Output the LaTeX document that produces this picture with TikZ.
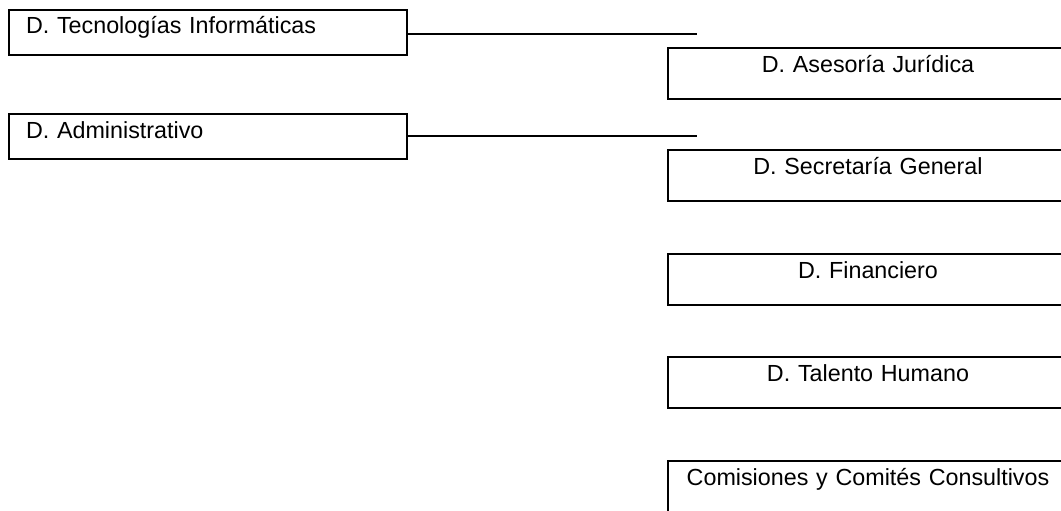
\documentclass[tikz,border=0pt]{standalone}
\usepackage{fontspec}
\setmainfont{Liberation Sans}
\newcommand{\boxfont}{\fontsize{23.3pt}{27pt}\selectfont}
\begin{document}
\begin{tikzpicture}[x=1pt,y=-1pt,
  leftbox/.style={draw, line width=2pt, anchor=north west, minimum width=398pt,
     text width=364pt, align=left, inner xsep=17pt, inner ysep=8pt,
     text height=16pt, text depth=13pt, font=\boxfont},
  rightbox/.style={draw, line width=2pt, anchor=north west,
     text width=376pt, align=center, inner xsep=12pt, inner ysep=8pt,
     text height=16.5pt, text depth=18.5pt, font=\boxfont},
  conn/.style={line width=2pt}]
\clip (0,0) rectangle (1061,511);
\fill[white] (0,0) rectangle (1061,511);
\node[leftbox] (ti) at (8,9) {D. Tecnologías Informáticas};
\node[leftbox] (adm) at (8,113) {D. Administrativo};
\node[rightbox] (aj) at (667,47) {D. Asesoría Jurídica};
\node[rightbox] (sg) at (667,149) {D. Secretaría General};
\node[rightbox] (fin) at (667,253) {D. Financiero};
\node[rightbox] (th) at (667,356) {D. Talento Humano};
\node[rightbox, text depth=24pt] (cc) at (667,460) {Comisiones y Comités Consultivos};
\coordinate (e1) at (697,34);
\coordinate (e2) at (697,136);
\draw[conn] (ti.east |- e1) -- (e1);
\draw[conn] (adm.east |- e2) -- (e2);
\end{tikzpicture}
\end{document}
